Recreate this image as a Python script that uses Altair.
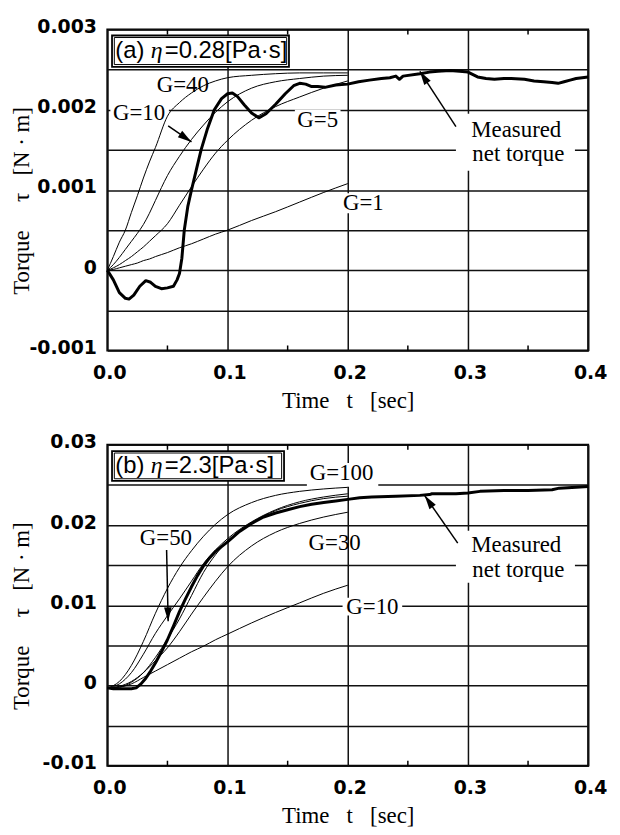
import math
import altair as alt
import pandas as pd

W, H = 484, 323
X_DOMAIN = [0.0, 0.4]
X_TICKS = [0.0, 0.1, 0.2, 0.3, 0.4]
MINOR_T = [0.05, 0.15, 0.25, 0.35]

# ---------------- panel (a) ----------------
A_YDOM = [-0.001, 0.003]
A_YTICKS = [-0.001, -0.0005, 0.0, 0.0005, 0.001, 0.0015, 0.002, 0.0025, 0.003]

a_sim_t = [0, 0.005, 0.01, 0.015, 0.02, 0.025, 0.03, 0.035, 0.04, 0.05, 0.06,
           0.07, 0.08, 0.09, 0.1, 0.12, 0.14, 0.16, 0.18, 0.2]
a_g40 = [0, 0.00017, 0.00035, 0.0005, 0.00072, 0.00093, 0.00115, 0.00135, 0.00153,
         0.00192, 0.00209, 0.00221, 0.0023, 0.00236, 0.0024, 0.00243, 0.00245,
         0.00246, 0.00246, 0.00246]
a_g10 = [0, 0.00007, 0.00016, 0.00026, 0.00036, 0.00046, 0.00057, 0.00071, 0.00087,
         0.00118, 0.00142, 0.00163, 0.00181, 0.00197, 0.0021, 0.00227, 0.00235,
         0.00239, 0.00242, 0.00243]
a_g5 = [0, 0.00003, 0.00007, 0.00012, 0.00017, 0.00023, 0.00029, 0.00036, 0.00043,
        0.00058, 0.00081, 0.00104, 0.00126, 0.00146, 0.00162, 0.00187, 0.00204,
        0.00216, 0.00227, 0.00236]
a_g1 = [0, 0.00001, 0.00003, 0.00005, 0.00007, 0.00009, 0.00012, 0.00014, 0.00017,
        0.00022, 0.00028, 0.00033, 0.00039, 0.00045, 0.0005, 0.00062, 0.00073,
        0.00085, 0.00097, 0.00108]

a_meas_t = [0, 0.005, 0.01, 0.015, 0.018, 0.022, 0.027, 0.032, 0.036, 0.04, 0.045,
            0.05, 0.055, 0.058, 0.06, 0.062, 0.064, 0.067, 0.07, 0.074, 0.078, 0.083,
            0.089, 0.095, 0.1, 0.104, 0.108, 0.114, 0.12, 0.126, 0.132, 0.14, 0.148,
            0.155, 0.16, 0.165, 0.17, 0.175, 0.181, 0.19, 0.2, 0.209, 0.218, 0.228,
            0.235, 0.24, 0.243, 0.246, 0.26, 0.268, 0.275, 0.285, 0.293, 0.3, 0.308,
            0.315, 0.322, 0.33, 0.336, 0.347, 0.355, 0.363, 0.37, 0.375, 0.38, 0.385,
            0.39, 0.4]
a_meas_v = [0, -0.00012, -0.00028, -0.00035, -0.00036, -0.00031, -0.0002, -0.00013,
            -0.00015, -0.0002, -0.00023, -0.00022, -0.0002, -0.00012, -0.00004,
            0.00015, 0.0005, 0.0008, 0.001, 0.00125, 0.0015, 0.00175, 0.002, 0.00214,
            0.0022, 0.00221, 0.00217, 0.00206, 0.00196, 0.0019, 0.00195, 0.00207,
            0.0022, 0.0023, 0.00233, 0.00232, 0.00229, 0.00229, 0.00228, 0.00231,
            0.00232, 0.00235, 0.00237, 0.00239, 0.0024, 0.00242, 0.00238, 0.00242,
            0.00245, 0.00247, 0.00248, 0.00249, 0.00248, 0.00247, 0.00241, 0.00239,
            0.00238, 0.00239, 0.00239, 0.00238, 0.00236, 0.00235, 0.00234, 0.00233,
            0.00235, 0.00237, 0.00239, 0.00241]

a_lab_text = ["G=40", "G=10", "G=5", "G=1", "Measured", "net torque"]
a_lab_t = [0.0628, 0.0264, 0.175, 0.213, 0.3402, 0.3419]
a_lab_v = [0.002305, 0.00196, 0.001873, 0.000836, 0.00175, 0.001453]

a_bg_t1 = [0.0025, 0.156, 0.195, 0.29]
a_bg_t2 = [0.0512, 0.194, 0.232, 0.389]
a_bg_v1 = [0.00182, 0.00176, 0.00071, 0.00124]
a_bg_v2 = [0.00208, 0.0020, 0.00096, 0.00195]

a_box_t1 = [0.0039, 0.0058]
a_box_t2 = [0.1511, 0.1492]
a_box_v1 = [0.002536, 0.002564]
a_box_v2 = [0.002926, 0.002901]

a_title_parts = ["(a)", "\u03b7", "=0.28[Pa\u00b7s]"]
a_title_t = [0.0066, 0.0362, 0.0478]
a_title_v = 0.002728

a_arr_t1 = [0.0506, 0.29]
a_arr_v1 = [0.0018, 0.00179]
a_arr_t2 = [0.070, 0.26]
a_arr_v2 = [0.0016, 0.00248]

# ---------------- panel (b) ----------------
B_YDOM = [-0.01, 0.03]
B_YTICKS = [-0.01, -0.005, 0.0, 0.005, 0.01, 0.015, 0.02, 0.025, 0.03]

b_sim_t = [0, 0.01, 0.02, 0.03, 0.04, 0.05, 0.06, 0.07, 0.08, 0.09, 0.1, 0.12, 0.14,
           0.16, 0.18, 0.2]
b_g100 = [-0.0003, 0.0005, 0.0025, 0.0055, 0.009, 0.0121, 0.0147, 0.0168, 0.0186,
          0.0201, 0.0213, 0.0228, 0.0237, 0.0242, 0.0245, 0.0247]
b_g50 = [-0.0003, 0.0002, 0.0016, 0.0039, 0.0065, 0.0087, 0.0108, 0.013, 0.0152,
         0.0169, 0.0183, 0.0204, 0.0219, 0.0229, 0.0235, 0.0239]
b_gx = [-0.0003, -0.0002, 0.0004, 0.0016, 0.0035, 0.0058, 0.0083, 0.0112, 0.0141,
        0.0163, 0.018, 0.0203, 0.0218, 0.0227, 0.0233, 0.0236]
b_g30 = [-0.0003, -0.0001, 0.0005, 0.0016, 0.0031, 0.0047, 0.0067, 0.0089, 0.011,
         0.013, 0.0148, 0.0174, 0.0191, 0.0202, 0.021, 0.0216]
b_g10 = [-0.0003, -0.0002, 0.0002, 0.001, 0.0018, 0.0026, 0.0034, 0.0042, 0.0049,
         0.0057, 0.0064, 0.0078, 0.0091, 0.0103, 0.0115, 0.0125]

b_meas_t = [0, 0.005, 0.01, 0.015, 0.02, 0.024, 0.028, 0.032, 0.036, 0.04, 0.045,
            0.05, 0.055, 0.06, 0.065, 0.07, 0.075, 0.08, 0.085, 0.09, 0.095, 0.1,
            0.11, 0.12, 0.13, 0.14, 0.15, 0.16, 0.17, 0.18, 0.19, 0.2, 0.21, 0.22,
            0.24, 0.26, 0.268, 0.27, 0.29, 0.3, 0.31, 0.33, 0.35, 0.37, 0.376, 0.39,
            0.4]
b_meas_v = [-0.0003, -0.0004, -0.0004, -0.0004, -0.0004, -0.0003, 0.0002, 0.0009,
            0.0018, 0.0028, 0.0042, 0.0057, 0.0074, 0.0092, 0.0108, 0.0123, 0.0137,
            0.0149, 0.0159, 0.0167, 0.0173, 0.0179, 0.0192, 0.0202, 0.021, 0.0215,
            0.0219, 0.0223, 0.0226, 0.0228, 0.023, 0.0232, 0.0234, 0.0235, 0.0236,
            0.0237, 0.0238, 0.0239, 0.0239, 0.024, 0.0242, 0.0243, 0.0243, 0.0244,
            0.0246, 0.0247, 0.0248]

b_lab_text = ["G=100", "G=50", "G=30", "G=10", "Measured", "net torque"]
b_lab_t = [0.1949, 0.0487, 0.1891, 0.2205, 0.3402, 0.3419]
b_lab_v = [0.02651, 0.01836, 0.01774, 0.00984, 0.01749, 0.01441]

b_bg_t1 = [0.166, 0.1957, 0.29]
b_bg_t2 = [0.2254, 0.2453, 0.389]
b_bg_v1 = [0.02478, 0.00873, 0.0128]
b_bg_v2 = [0.02774, 0.01095, 0.0193]

b_box_t1 = [0.0039, 0.0058]
b_box_t2 = [0.147, 0.145]
b_box_v1 = [0.02552, 0.02577]
b_box_v2 = [0.02922, 0.02898]

b_title_parts = ["(b)", "\u03b7", "=2.3[Pa\u00b7s]"]
b_title_t = [0.0066, 0.0362, 0.0478]
b_title_v = 0.02737

b_arr_t1 = [0.0493, 0.2915]
b_arr_v1 = [0.01688, 0.01774]
b_arr_t2 = [0.0506, 0.264]
b_arr_v2 = [0.008, 0.02367]

X_TITLE = "Time\u00a0\u00a0\u00a0t\u00a0\u00a0\u00a0[sec]"
Y_TITLE = "Torque\u00a0\u00a0\u00a0\u00a0\u00a0\u03c4\u00a0\u00a0\u00a0[N\u00a0\u00b7\u00a0m]"

HEAD = "M0,0L0.55,2L-0.55,2Z"


def make_panel(sim_t, sims, meas_t, meas_v, ydom, yticks, ymult, yfmt,
               lab_text, lab_t, lab_v, bg, box, title_parts, title_t, title_v, arr):
    xscale = alt.Scale(domain=X_DOMAIN, nice=False, zero=False)
    yscale = alt.Scale(domain=ydom, nice=False, zero=False)
    xaxis = alt.Axis(values=X_TICKS, format=".1f", grid=True, gridColor="#111111",
                     gridWidth=1.5, domain=False, ticks=False, tickSize=0,
                     labelFont="DejaVu Sans", labelFontWeight="bold", labelFontSize=19,
                     labelColor="black", labelPadding=13, labelFlush=False,
                     labelOffset=2, titleFont="Liberation Serif", titleFontSize=23,
                     titleFontWeight="normal", titleColor="black", titlePadding=7)
    expr = ("abs(round(datum.value*%d)) %% 2 == 1 ? '' : (abs(datum.value) < 1e-9 ? '0' : "
            "replace(format(datum.value, '%s'), '\u2212', '-'))" % (ymult, yfmt))
    yaxis = alt.Axis(values=yticks, labelExpr=expr, grid=True, gridColor="#111111",
                     gridWidth=1.5, domain=False, ticks=False, tickSize=0,
                     labelFont="DejaVu Sans", labelFontWeight="bold", labelFontSize=19,
                     labelColor="black", labelPadding=11, labelFlush=False,
                     labelOffset=-3, labelBaseline="middle",
                     titleFont="Liberation Serif", titleFontSize=23,
                     titleFontWeight="normal", titleColor="black", titleAngle=270,
                     titleX=-86, titleY=172, titleAlign="center",
                     titleBaseline="middle")

    def X(f):
        return alt.X(f, type="quantitative", scale=xscale, axis=xaxis, title=X_TITLE)

    def Y(f):
        return alt.Y(f, type="quantitative", scale=yscale, axis=yaxis, title=Y_TITLE)

    rows = []
    for name, vals in sims:
        for t, v in zip(sim_t, vals):
            rows.append({"t": t, "v": v, "series": name})
    sim_df = pd.DataFrame(rows)
    meas_df = pd.DataFrame({"t": meas_t, "v": meas_v})
    lab_df = pd.DataFrame({"t": lab_t, "v": lab_v, "label": lab_text})
    bg_df = pd.DataFrame({"t1": bg[0], "t2": bg[1], "v1": bg[2], "v2": bg[3]})
    box_df = pd.DataFrame({"t1": box[0], "t2": box[1], "v1": box[2], "v2": box[3],
                           "w": [1.8, 1.0]})
    sans_df = pd.DataFrame({"t": [title_t[0], title_t[2]], "v": [title_v, title_v],
                            "label": [title_parts[0], title_parts[2]]})
    eta_df = pd.DataFrame({"t": [title_t[1]], "v": [title_v], "label": [title_parts[1]]})

    yr = ydom[1] - ydom[0]
    angs = []
    for t1, v1, t2, v2 in zip(*arr):
        dx = (t2 - t1) / (X_DOMAIN[1] - X_DOMAIN[0]) * W
        dy = -(v2 - v1) / yr * H
        angs.append(math.degrees(math.atan2(dx, -dy)) % 360)
    arr_df = pd.DataFrame({"t1": arr[0], "v1": arr[1], "t2": arr[2], "v2": arr[3],
                           "ang": angs})
    minor_df = pd.DataFrame({"t": MINOR_T})

    bg_layer = alt.Chart(bg_df).mark_rect(fill="white").encode(
        x=X("t1"), x2="t2", y=Y("v1"), y2="v2")
    box_layer = alt.Chart(box_df).mark_rect(fill="white", stroke="black").encode(
        x=X("t1"), x2="t2", y=Y("v1"), y2="v2",
        strokeWidth=alt.StrokeWidth("w:Q", scale=None))
    sim_layer = alt.Chart(sim_df).mark_line(
        color="black", strokeWidth=1, interpolate="monotone").encode(
        x=X("t"), y=Y("v"), detail="series:N")
    meas_layer = alt.Chart(meas_df).mark_line(
        color="black", strokeWidth=3, strokeJoin="round").encode(x=X("t"), y=Y("v"))
    arr_rule = alt.Chart(arr_df).mark_rule(color="black", strokeWidth=1.5).encode(
        x=X("t1"), x2="t2", y=Y("v1"), y2="v2")
    arr_head = alt.Chart(arr_df).mark_point(
        shape=HEAD, filled=True, color="black", size=196, opacity=1).encode(
        x=X("t2"), y=Y("v2"), angle=alt.Angle("ang:Q", scale=None))
    lab_layer = alt.Chart(lab_df).mark_text(
        font="Liberation Serif", fontSize=23, color="black", align="center",
        baseline="middle").encode(x=X("t"), y=Y("v"), text="label:N")
    sans_layer = alt.Chart(sans_df).mark_text(
        font="Liberation Sans", fontSize=24, color="black", align="left",
        baseline="middle").encode(x=X("t"), y=Y("v"), text="label:N")
    eta_layer = alt.Chart(eta_df).mark_text(
        font="Liberation Serif", fontStyle="italic", fontSize=24, color="black",
        align="left", baseline="middle").encode(x=X("t"), y=Y("v"), text="label:N")
    minor_bot = alt.Chart(minor_df).mark_rule(color="black", strokeWidth=1.5).encode(
        x=X("t"), y=alt.value(H), y2=alt.value(H - 5))
    minor_top = alt.Chart(minor_df).mark_rule(color="black", strokeWidth=1.5).encode(
        x=X("t"), y=alt.value(0), y2=alt.value(5))

    return alt.layer(bg_layer, box_layer, sim_layer, meas_layer, arr_rule, arr_head,
                     lab_layer, sans_layer, eta_layer, minor_bot, minor_top
                     ).properties(width=W, height=H)


top = make_panel(a_sim_t, [("G=40", a_g40), ("G=10", a_g10), ("G=5", a_g5), ("G=1", a_g1)],
                 a_meas_t, a_meas_v, A_YDOM, A_YTICKS, 2000, ".3f",
                 a_lab_text, a_lab_t, a_lab_v,
                 (a_bg_t1, a_bg_t2, a_bg_v1, a_bg_v2),
                 (a_box_t1, a_box_t2, a_box_v1, a_box_v2),
                 a_title_parts, a_title_t, a_title_v,
                 (a_arr_t1, a_arr_v1, a_arr_t2, a_arr_v2))

bottom = make_panel(b_sim_t, [("G=100", b_g100), ("G=50", b_g50), ("Gx", b_gx),
                              ("G=30", b_g30), ("G=10", b_g10)],
                    b_meas_t, b_meas_v, B_YDOM, B_YTICKS, 200, ".2f",
                    b_lab_text, b_lab_t, b_lab_v,
                    (b_bg_t1, b_bg_t2, b_bg_v1, b_bg_v2),
                    (b_box_t1, b_box_t2, b_box_v1, b_box_v2),
                    b_title_parts, b_title_t, b_title_v,
                    (b_arr_t1, b_arr_v1, b_arr_t2, b_arr_v2))

chart = alt.vconcat(top, bottom, spacing=19).properties(
    padding={"left": 2, "top": 6, "right": 4, "bottom": 0},
    background="white",
).configure_view(stroke="black", strokeWidth=2)

chart.save("out.html", embed_options={"renderer": "svg", "actions": False})
